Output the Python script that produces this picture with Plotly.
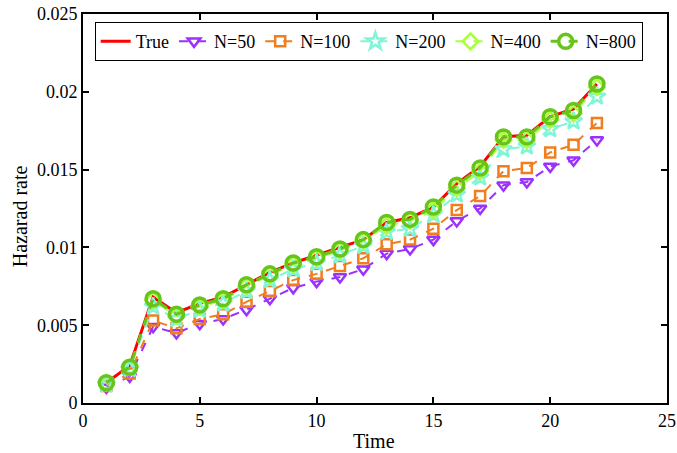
import plotly.graph_objects as go

time = list(range(1, 23))
true_vals = [0.0013, 0.0024, 0.0068, 0.0058, 0.0064, 0.0068, 0.0076, 0.0084, 0.0090, 0.0095, 0.0100,
             0.0105, 0.0116, 0.0119, 0.0126, 0.0141, 0.0152, 0.0171, 0.0172, 0.0184, 0.0189, 0.0205]
n50 = [0.0010, 0.0017, 0.0049, 0.0045, 0.0051, 0.0054, 0.0060, 0.0067, 0.0074, 0.0078, 0.0081,
       0.0086, 0.0096, 0.0099, 0.0105, 0.0117, 0.0125, 0.0140, 0.0142, 0.0152, 0.0156, 0.0169]
n100 = [0.0011, 0.0019, 0.0053, 0.0048, 0.0054, 0.0057, 0.0065, 0.0072, 0.0079, 0.0083, 0.0088,
        0.0093, 0.0102, 0.0105, 0.0112, 0.0124, 0.0133, 0.0149, 0.0151, 0.0161, 0.0166, 0.0180]
n200 = [0.0012, 0.0022, 0.0062, 0.0054, 0.0060, 0.0064, 0.0072, 0.0079, 0.0086, 0.0090, 0.0095,
        0.0101, 0.0110, 0.0112, 0.0121, 0.0134, 0.0145, 0.0163, 0.0165, 0.0176, 0.0181, 0.0197]
n400 = [0.0013, 0.0023, 0.0066, 0.0056, 0.0062, 0.0066, 0.0075, 0.0082, 0.0089, 0.0093, 0.0098,
        0.0104, 0.0114, 0.0117, 0.0124, 0.0138, 0.0149, 0.0169, 0.0169, 0.0182, 0.0186, 0.0203]
n800 = [0.0013, 0.0023, 0.0067, 0.0057, 0.0063, 0.0067, 0.0076, 0.0083, 0.0090, 0.0094, 0.0099,
        0.0105, 0.0116, 0.0118, 0.0126, 0.0140, 0.0151, 0.0171, 0.0171, 0.0184, 0.0188, 0.0205]

FONT = "Liberation Serif"

fig = go.Figure()
fig.add_trace(go.Scatter(x=time, y=true_vals, name="True", mode="lines",
                         line=dict(color="#ff0000", width=3)))
series = [
    ("N=50", n50, "#9b30ff", "triangle-down-open", 11, 2),
    ("N=100", n100, "#f07d1e", "square-open", 10, 2),
    ("N=200", n200, "#80f5d8", "star-open", 13, 2),
    ("N=400", n400, "#a8ff3c", "diamond-open", 12, 2),
    ("N=800", n800, "#66c41a", "circle-open", 14, 3),
]
for name, vals, col, sym, size, lw in series:
    fig.add_trace(go.Scatter(
        x=time, y=vals, name=name, mode="lines+markers",
        line=dict(color=col, width=lw, dash="dash"),
        marker=dict(symbol=sym, size=size, color=col, line=dict(color=col, width=lw + 0.5)),
    ))

axis_common = dict(
    showline=True, linecolor="black", linewidth=1.8, mirror="ticks",
    ticks="inside", ticklen=6, tickwidth=1.5, tickcolor="black",
    showgrid=False, zeroline=False, automargin=False, ticklabeloverflow="allow",
    tickfont=dict(family=FONT, size=18, color="black"),
)
fig.update_xaxes(range=[0, 25], dtick=5, tick0=0, **axis_common)
fig.update_yaxes(range=[0, 0.025], dtick=0.005, tick0=0, **axis_common)

fig.update_layout(
    width=677, height=453,
    margin=dict(l=83, r=10, t=14, b=50, autoexpand=False),
    plot_bgcolor="white", paper_bgcolor="white",
    font=dict(family=FONT, color="black"),
    legend=dict(orientation="h", x=0.02, y=0.979, xanchor="left", yanchor="top",
                bgcolor="white", bordercolor="black", borderwidth=1,
                font=dict(family=FONT, size=18, color="black"),
                itemwidth=30, tracegroupgap=0),
    annotations=[
        dict(text="Time", xref="paper", yref="paper", x=0.498, y=-0.098,
             xanchor="center", yanchor="middle", showarrow=False,
             font=dict(family=FONT, size=20, color="black")),
        dict(text="Hazarad rate", xref="paper", yref="paper", x=-0.108, y=0.48,
             xanchor="center", yanchor="middle", showarrow=False, textangle=-90,
             font=dict(family=FONT, size=20, color="black")),
    ],
)

fig.write_html("out.html", config={"displayModeBar": False},
               post_script="document.body.style.margin='0';")
